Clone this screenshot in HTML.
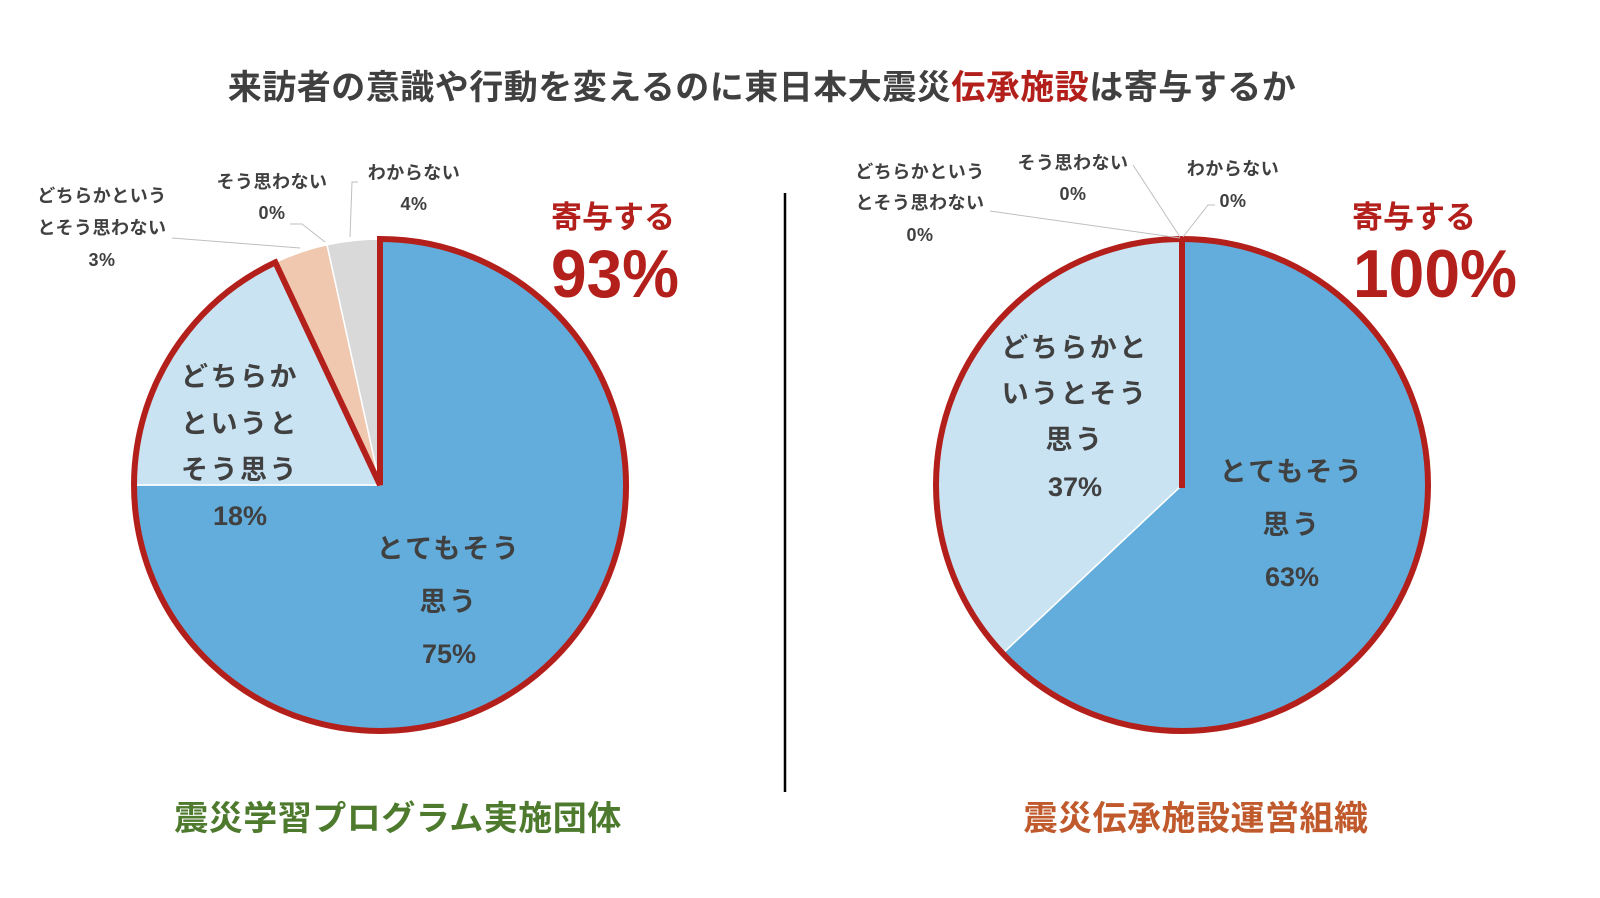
<!DOCTYPE html>
<html><head><meta charset="utf-8"><style>
html,body{margin:0;padding:0;background:#fff;}
svg{display:block;}
text{font-family:"Liberation Sans","Noto Sans CJK JP",sans-serif;font-weight:bold;}
</style></head><body>
<svg width="1600" height="898" viewBox="0 0 1600 898" xmlns="http://www.w3.org/2000/svg">
<text x="762" y="99" font-size="34" fill="#404040" text-anchor="middle" letter-spacing="0.5">来訪者の意識や行動を変えるのに東日本大震災<tspan fill="#b3201c">伝承施設</tspan>は寄与するか</text>

<path d="M380,485 L380,239 A246,246 0 1 1 134,485 Z" fill="#62addb" stroke="#fff" stroke-width="1.5"/>
<path d="M380,485 L134,485 A246,246 0 0 1 275.3,262.4 Z" fill="#c9e3f2" stroke="#fff" stroke-width="1.5"/>
<path d="M380,485 L275.3,262.4 A246,246 0 0 1 327,244.8 Z" fill="#f0c8b0" stroke="#fff" stroke-width="1.5"/>
<path d="M380,485 L327,244.8 A246,246 0 0 1 380,239 Z" fill="#d9d9d9" stroke="#fff" stroke-width="1.5"/>
<path d="M380,485 L380,239 A246,246 0 1 1 275.3,262.4 Z" fill="none" stroke="#b3201c" stroke-width="6" stroke-linejoin="miter"/>

<g fill="#404040" font-size="27" text-anchor="middle" letter-spacing="2.5">
<text x="240" y="386">どちらか</text>
<text x="240" y="433">というと</text>
<text x="240" y="479">そう思う</text>
<text x="449" y="558">とてもそう</text>
<text x="449" y="611">思う</text>
</g>
<g fill="#404040" font-size="27" text-anchor="middle">
<text x="240" y="525">18%</text>
<text x="449" y="663">75%</text>
</g>
<g fill="#404040" font-size="18" text-anchor="middle" letter-spacing="0.5">
<text x="102" y="202">どちらかという</text>
<text x="102" y="234">とそう思わない</text>
<text x="102" y="266">3%</text>
<text x="272" y="188">そう思わない</text>
<text x="272" y="219">0%</text>
<text x="414" y="179">わからない</text>
<text x="414" y="210">4%</text>
</g>
<g stroke="#bfbfbf" stroke-width="1" fill="none">
<polyline points="172,238 300,248"/>
<polyline points="290,224 302,224 325,242"/>
<polyline points="358,182 352,182 350,237"/>
</g>
<text x="613" y="228" font-size="31" fill="#b3201c" text-anchor="middle">寄与する</text>
<text x="615" y="297" font-size="68" fill="#b3201c" text-anchor="middle" textLength="128" lengthAdjust="spacingAndGlyphs">93%</text>

<line x1="785" y1="193" x2="785" y2="792" stroke="#000" stroke-width="2.5"/>

<path d="M1182,485 L1182,239 A246,246 0 1 1 1002.7,653.4 Z" fill="#62addb" stroke="#fff" stroke-width="1.5"/>
<path d="M1182,485 L1002.7,653.4 A246,246 0 0 1 1182,239 Z" fill="#c9e3f2" stroke="#fff" stroke-width="1.5"/>
<circle cx="1182" cy="485" r="246" fill="none" stroke="#b3201c" stroke-width="6"/>
<line x1="1182" y1="239" x2="1182" y2="488" stroke="#b3201c" stroke-width="6"/>

<g fill="#404040" font-size="27" text-anchor="middle" letter-spacing="2.5">
<text x="1075" y="357">どちらかと</text>
<text x="1075" y="403">いうとそう</text>
<text x="1075" y="449">思う</text>
<text x="1292" y="481">とてもそう</text>
<text x="1292" y="534">思う</text>
</g>
<g fill="#404040" font-size="27" text-anchor="middle">
<text x="1075" y="496">37%</text>
<text x="1292" y="586">63%</text>
</g>
<g fill="#404040" font-size="18" text-anchor="middle" letter-spacing="0.5">
<text x="920" y="178">どちらかという</text>
<text x="920" y="209">とそう思わない</text>
<text x="920" y="241">0%</text>
<text x="1073" y="169">そう思わない</text>
<text x="1073" y="200">0%</text>
<text x="1233" y="175">わからない</text>
<text x="1233" y="207">0%</text>
</g>
<g stroke="#bfbfbf" stroke-width="1" fill="none">
<polyline points="990,211 1180,238"/>
<polyline points="1133,165 1180,237"/>
<polyline points="1215,205 1208,205 1183,237"/>
</g>
<text x="1414" y="228" font-size="31" fill="#b3201c" text-anchor="middle">寄与する</text>
<text x="1435" y="297" font-size="68" fill="#b3201c" text-anchor="middle" textLength="164" lengthAdjust="spacingAndGlyphs">100%</text>

<text x="398" y="830" font-size="34" fill="#4e7a2e" text-anchor="middle" letter-spacing="0.5">震災学習プログラム実施団体</text>
<text x="1196" y="830" font-size="34" fill="#c0592b" text-anchor="middle" letter-spacing="0.5">震災伝承施設運営組織</text>
</svg>
</body></html>
